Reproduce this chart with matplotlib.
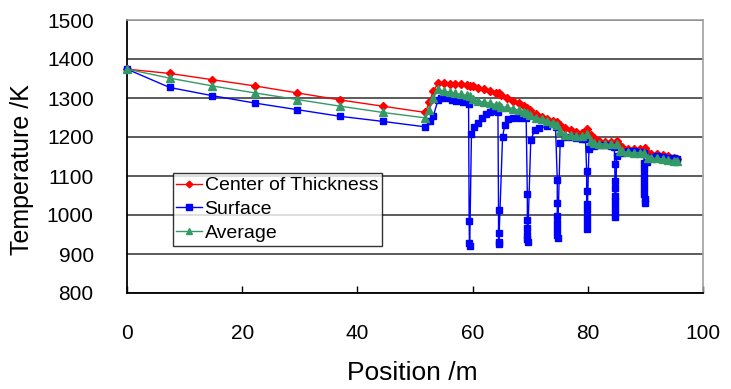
import numpy as np
import matplotlib.pyplot as plt

plt.rcParams['font.family'] = ['Liberation Sans', 'DejaVu Sans']

# position along the line (m) and temperatures (K)
pos_center = [0, 7.4, 14.8, 22.2, 29.6, 37.0, 44.4, 51.8,
              52.5, 53.2, 54.0, 55.0, 56.0, 57.0, 58.0, 59.0, 59.5, 60.0,
              61.0, 62.0, 63.0, 64.0, 64.5, 65.0, 66.0, 67.0, 68.0, 69.0,
              69.5, 70.0, 71.0, 72.0, 73.0, 74.0, 74.6, 75.2, 76.0, 77.0,
              78.0, 79.0, 79.8, 80.5, 81.0, 82.0, 83.0, 84.0, 85.0, 85.6,
              86.0, 87.0, 88.0, 89.0, 89.9, 90.5, 91.0, 92.0, 93.0, 94.0,
              95.0, 95.5]
temp_center = [1374, 1363, 1347, 1331, 1313, 1295, 1279, 1263,
               1290, 1318, 1338, 1338, 1336, 1335, 1336, 1334, 1331, 1330,
               1326, 1322, 1317, 1314, 1312, 1308, 1300, 1292, 1286, 1279,
               1275, 1268, 1259, 1252, 1246, 1240, 1238, 1232, 1222, 1217,
               1214, 1211, 1220, 1205, 1198, 1190, 1188, 1187, 1190, 1177,
               1174, 1169, 1168, 1168, 1172, 1158, 1156, 1156, 1155, 1151,
               1146, 1143]

pos_avg = [0, 7.4, 14.8, 22.2, 29.6, 37.0, 44.4, 51.8,
           52.5, 53.2, 54.0, 55.0, 56.0, 57.0, 58.0, 59.0, 59.5, 60.0,
           61.0, 62.0, 63.0, 64.0, 64.5, 65.0, 66.0, 67.0, 68.0, 69.0,
           69.5, 70.0, 71.0, 72.0, 73.0, 74.0, 74.7, 75.2, 76.0, 77.0,
           78.0, 79.0, 79.8, 80.5, 81.0, 82.0, 83.0, 84.0, 85.0, 85.6,
           86.0, 87.0, 88.0, 89.0, 89.8, 90.5, 91.0, 92.0, 93.0, 94.0,
           95.0, 95.5]
temp_avg = [1374, 1351, 1331, 1313, 1296, 1279, 1263, 1249,
            1270, 1300, 1322, 1318, 1315, 1312, 1309, 1307, 1304, 1298,
            1292, 1290, 1287, 1283, 1281, 1278, 1276, 1273, 1269, 1265,
            1262, 1256, 1250, 1246, 1242, 1236, 1232, 1215, 1206, 1204,
            1203, 1203, 1207, 1190, 1185, 1183, 1182, 1181, 1181, 1165,
            1163, 1161, 1160, 1160, 1158, 1147, 1146, 1145, 1144, 1142,
            1139, 1138]

pos_surf = [0, 7.4, 14.8, 22.2, 29.6, 37.0, 44.4, 51.8,
            52.6, 53.2, 54.0, 54.5, 55.5, 56.5, 57.2, 58.4, 59.3,
            59.4, 59.45, 59.5, 59.8, 60.3, 61.0, 61.6, 62.4, 63.0, 63.6, 64.4,
            64.5, 64.5, 64.5, 64.55, 65.2, 65.6, 66.2, 67.1, 68.2, 69.3,
            69.5, 69.5, 69.5, 69.5, 69.5, 69.55, 70.1, 70.8, 71.5, 72.9, 74.4,
            74.7, 74.7, 74.7, 74.7, 74.7, 74.7, 74.75, 75.2, 76.0, 77.0, 78.0,
            79.0, 79.6,
            79.8, 79.8, 79.8, 79.8, 79.8, 79.8, 79.85, 80.2, 81.0, 82.0, 83.0,
            84.0, 84.6,
            84.7, 84.7, 84.7, 84.7, 84.7, 84.7, 84.75, 84.8, 85.0, 86.0, 87.0,
            88.0, 89.0, 89.7,
            89.8, 89.8, 89.8, 89.8, 89.8, 89.8, 89.85, 89.85, 90.2, 91.0, 92.0,
            93.0, 94.0, 95.0, 95.5]
temp_surf = [1374, 1327, 1306, 1287, 1270, 1253, 1240, 1226,
             1240, 1255, 1295, 1300, 1299, 1296, 1293, 1289, 1285,
             985, 927, 920, 1207, 1225, 1237, 1249, 1260, 1265, 1266, 1263,
             1014, 955, 932, 926, 1200, 1232, 1245, 1250, 1250, 1248,
             1054, 987, 966, 950, 938, 930, 1192, 1219, 1223, 1227, 1225,
             1090, 1031, 997, 980, 965, 950, 940, 1185, 1200, 1200, 1198,
             1196, 1195,
             1113, 1062, 1028, 1012, 995, 980, 965, 1170, 1178, 1180, 1179,
             1178, 1175,
             1130, 1088, 1069, 1050, 1035, 1020, 1005, 995, 1151, 1160, 1163,
             1163, 1162, 1160,
             1134, 1117, 1100, 1085, 1070, 1055, 1040, 1030, 1136, 1150, 1151,
             1149, 1147, 1145, 1144]

fig = plt.figure(figsize=(7.31, 3.89), dpi=100)
ax = fig.add_axes([127/731, 1-293/389, 576/731, 273/389])

ax.plot(pos_center, temp_center, color='#ff0000', lw=1, marker='D', ms=4.2,
        label='Center of Thickness', clip_on=False, zorder=3)
ax.plot(pos_surf, temp_surf, color='#0000ff', lw=1, marker='s', ms=4.8,
        label='Surface', clip_on=False, zorder=4)
ax.plot(pos_avg, temp_avg, color='#339966', lw=1, marker='^', ms=5.4,
        label='Average', clip_on=False, zorder=5)

ax.set_xlim(0, 100)
ax.set_ylim(800, 1500)
ax.set_xticks(np.arange(0, 101, 20))
ax.set_yticks(np.arange(800, 1501, 100))
ax.yaxis.grid(True, color='#404040', lw=1.2)
ax.set_axisbelow(True)

ax.tick_params(axis='x', direction='in', length=5, width=1, pad=22, labelsize=15)
ax.tick_params(axis='y', length=0, pad=24, labelsize=15)

for side in ['left', 'bottom']:
    ax.spines[side].set_color('black')
    ax.spines[side].set_linewidth(1.3)
for side in ['top', 'right']:
    ax.spines[side].set_color('#a0a0a0')
    ax.spines[side].set_linewidth(1.2)

fig.text(22/731, 1-170/389, 'Temperature /K', rotation=90, ha='center',
         va='center', fontsize=18)
fig.text(412/731, 1-373/389, 'Position /m', ha='center', va='center',
         fontsize=19)

leg = ax.legend(loc='upper left', bbox_to_anchor=(0.079, 0.44), fontsize=14,
                frameon=True, fancybox=False, borderaxespad=0, borderpad=0.2,
                labelspacing=0.32, handlelength=1.3, handletextpad=0.15,
                markerscale=0.8)
leg.get_frame().set_edgecolor('black')
leg.get_frame().set_linewidth(1)
leg.set_zorder(10)

fig.savefig('out.png', dpi=100)
